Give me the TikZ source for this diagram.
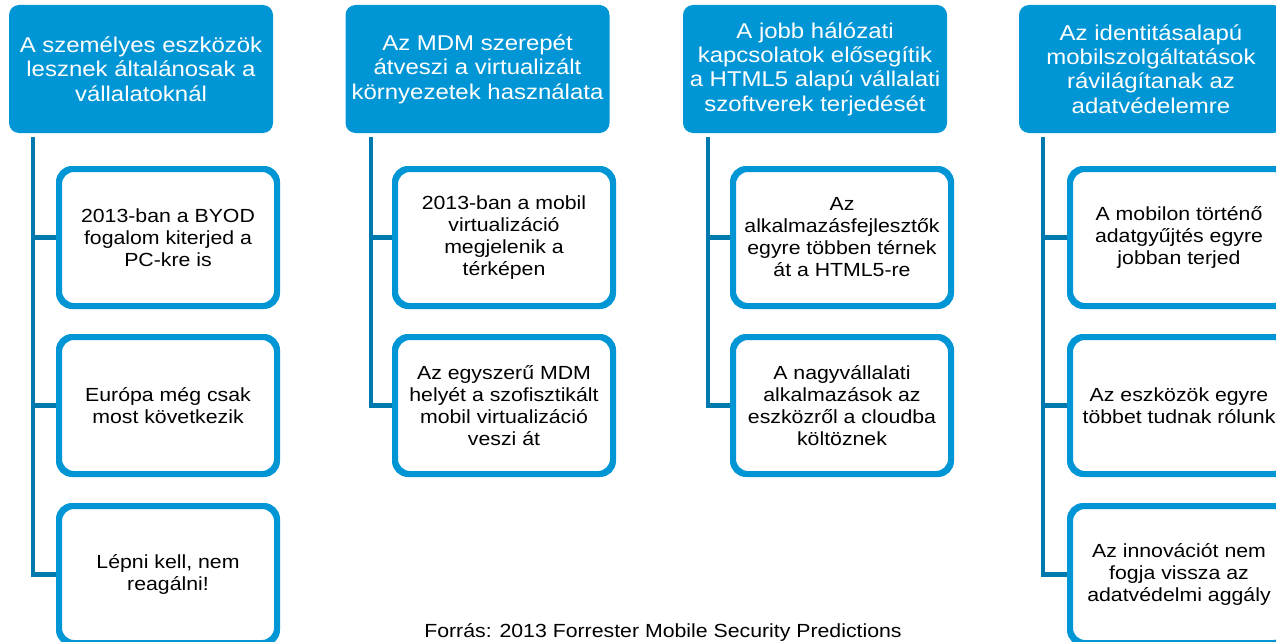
\documentclass[tikz,border=0pt]{standalone}
\usepackage{fontspec}
\setmainfont{Liberation Sans}[FakeStretch=1.12]
\definecolor{headblue}{RGB}{0,150,214}
\definecolor{boxblue}{RGB}{0,150,214}
\definecolor{connblue}{RGB}{0,121,172}
\begin{document}
\begin{tikzpicture}[x=1pt,y=-1pt,
  header/.style={fill=headblue,draw=none,rounded corners=10pt,minimum width=264pt,minimum height=128pt,
    text=white,align=center,inner sep=0pt,font=\fontsize{21.4}{24.4}\selectfont},
  child/.style={draw=boxblue,line width=4pt,fill=white,rounded corners=14pt,minimum width=216pt,minimum height=135pt,
    text=black,align=center,inner sep=0pt,font=\fontsize{19}{22}\selectfont},
  conn/.style={draw=connblue,line width=4.2pt},
  caption/.style={anchor=base,text=black,inner sep=0pt,font=\fontsize{19}{22}\selectfont}]
\useasboundingbox (0,0) rectangle (1276,642);
% headers
\node[header] (h1) at (141,69) {A személyes eszközök\\lesznek általánosak a\\vállalatoknál};
\node[header] (h2) at (477.5,69) {Az MDM szerepét\\átveszi a virtualizált\\környezetek használata};
\node[header] (h3) at (815,69) {A jobb hálózati\\kapcsolatok elősegítik\\a HTML5 alapú vállalati\\szoftverek terjedését};
\node[header] (h4) at (1151,69) {Az identitásalapú\\mobilszolgáltatások\\rávilágítanak az\\adatvédelemre};
% column 1
\node[child] (c11) at (168,237.5) {2013-ban a BYOD\\fogalom kiterjed a\\PC-kre is};
\node[child] (c12) at (168,405.5) {Európa még csak\\most következik};
\node[child] (c13) at (168,574.5) {Lépni kell, nem\\reagálni!};
% column 2
\node[child] (c21) at (504,237.5) {2013-ban a mobil\\virtualizáció\\megjelenik a\\térképen};
\node[child] (c22) at (504,405.5) {Az egyszerű MDM\\helyét a szofisztikált\\mobil virtualizáció\\veszi át};
% column 3
\node[child] (c31) at (842,237.5) {Az\\alkalmazásfejlesztők\\egyre többen térnek\\át a HTML5-re};
\node[child] (c32) at (842,405.5) {A nagyvállalati\\alkalmazások az\\eszközről a cloudba\\költöznek};
% column 4
\node[child] (c41) at (1179,237.5) {A mobilon történő\\adatgyűjtés egyre\\jobban terjed};
\node[child] (c42) at (1179,405.5) {Az eszközök egyre\\többet tudnak rólunk};
\node[child] (c43) at (1179,574.5) {Az innovációt nem\\fogja vissza az\\adatvédelmi aggály};
% connector tops
\coordinate (t1) at (33,137);
\coordinate (t2) at (371,137);
\coordinate (t3) at (708,137);
\coordinate (t4) at (1043,137);
% connectors
\draw[conn] (t1) |- (c11.west);
\draw[conn] (t1) |- (c12.west);
\draw[conn] (t1) |- (c13.west);
\draw[conn] (t2) |- (c21.west);
\draw[conn] (t2) |- (c22.west);
\draw[conn] (t3) |- (c31.west);
\draw[conn] (t3) |- (c32.west);
\draw[conn] (t4) |- (c41.west);
\draw[conn] (t4) |- (c42.west);
\draw[conn] (t4) |- (c43.west);
% redraw child borders on top of stubs
\foreach \n in {c11,c12,c13,c21,c22,c31,c32,c41,c42,c43} {\draw[draw=boxblue,line width=4pt,rounded corners=14pt] (\n.north west) rectangle (\n.south east);}
% caption
\node[caption] (cap) at (663,637.5) {Forrás: 2013 Forrester Mobile Security Predictions};
\end{tikzpicture}
\end{document}
